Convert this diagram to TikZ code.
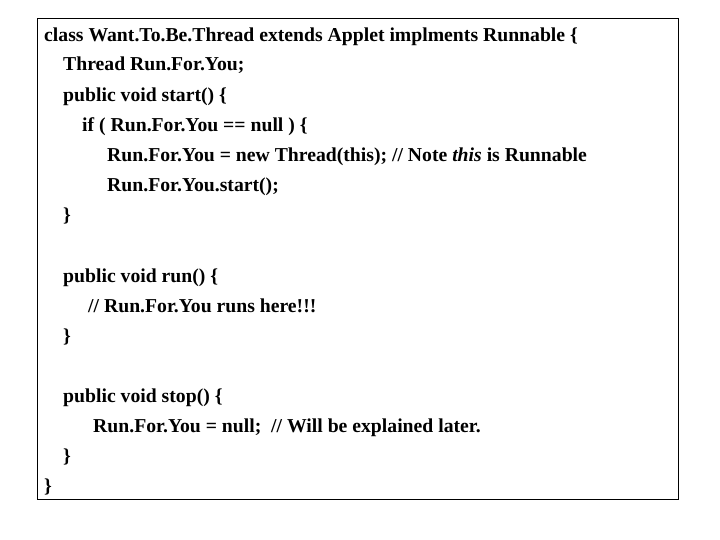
\documentclass[tikz,border=0pt]{standalone}
\usepackage{fontspec}
\setmainfont{Liberation Serif}
\begin{document}
\begin{tikzpicture}[x=1pt,y=-1pt,code/.style={anchor=base west,inner sep=0pt,font=\fontsize{19.7}{22}\selectfont\bfseries}]
\useasboundingbox (0,0) rectangle (720,540);
\draw[line width=0.8pt] (37,18) rectangle (678,499);
\node[code] (l1) at (44,42) {class Want.To.Be.Thread extends Applet implments Runnable \{};
\node[code] (l2) at (63,71) {Thread Run.For.You;};
\node[code] (l3) at (63,102) {public void start() \{};
\node[code] (l4) at (82,132) {if ( Run.For.You == null ) \{};
\node[code] (l5) at (107,162) {Run.For.You = new Thread(this); // Note \textit{this} is Runnable};
\node[code] (l6) at (107,192) {Run.For.You.start();};
\node[code] (l7) at (63,222) {\}};
\node[code] (l8) at (63,282) {public void run() \{};
\node[code] (l9) at (88,312) {// Run.For.You runs here!!!};
\node[code] (l10) at (63,342) {\}};
\node[code] (l11) at (63,402) {public void stop() \{};
\node[code] (l12) at (93,432) {Run.For.You = null;\ \ // Will be explained later.};
\node[code] (l13) at (63,462) {\}};
\node[code] (l14) at (44,492) {\}};
\end{tikzpicture}
\end{document}
